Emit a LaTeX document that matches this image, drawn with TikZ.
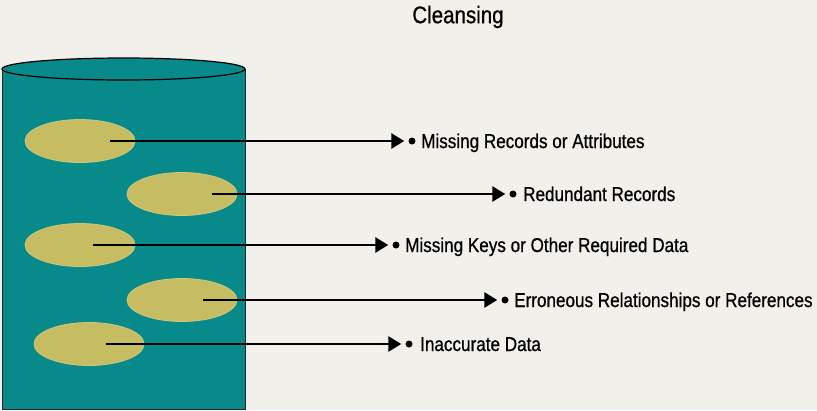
\documentclass[tikz,border=0pt]{standalone}
\usepackage{fontspec}
\setmainfont{Liberation Sans}[FakeStretch=0.855,FakeBold=0.7]
\usetikzlibrary{arrows.meta,shapes.geometric}
\definecolor{bgc}{RGB}{242,240,235}
\definecolor{teal1}{RGB}{8,137,138}
\definecolor{olive1}{RGB}{198,189,98}
\tikzset{
  disc/.style={ellipse, fill=olive1, draw=olive1!85!white, line width=0.8pt, minimum width=110pt, minimum height=43pt, inner sep=0pt},
  dot/.style={circle, fill=black, minimum size=7pt, inner sep=0pt},
  lbl/.style={anchor=west, inner sep=0pt, text height=14pt, text depth=0pt, font=\fontsize{20}{23}\selectfont},
  conn/.style={line width=2.8pt, -{Triangle[length=13pt,width=15pt]}, shorten >=4pt}
}
\begin{document}
\begin{tikzpicture}[x=1pt,y=-1pt]
\useasboundingbox (0,0) rectangle (817,410);
\fill[bgc] (0,0) rectangle (817,410);
% title
\node[inner sep=0pt, font=\fontsize{24}{26}\selectfont] (title) at (458,17) {Cleansing};
% cylinder
\fill[teal1] (2,69) rectangle (245,409);
\fill[teal1] (123.5,69) ellipse[x radius=121.5,y radius=11];
\draw[black!85, line width=0.8pt] (2,69) -- (2,409) -- (245,409) -- (245,69);
\draw[black, line width=1.2pt] (123.5,69) ellipse[x radius=121.5,y radius=11];
% discs
\node[disc] (e1) at (80,141) {};
\node[disc] (e2) at (182,194) {};
\node[disc] (e3) at (80,245) {};
\node[disc] (e4) at (182,300) {};
\node[disc] (e5) at (89,344) {};
% bullets
\node[dot] (b1) at (412,141) {};
\node[dot] (b2) at (513,194) {};
\node[dot] (b3) at (396,245) {};
\node[dot] (b4) at (505,300) {};
\node[dot] (b5) at (409,344) {};
% labels
\node[lbl] (t1) at (421,141) {Missing Records or Attributes};
\node[lbl] (t2) at (523,194) {Redundant Records};
\node[lbl] (t3) at (405,245) {Missing Keys or Other Required Data};
\node[lbl] (t4) at (514,300) {Erroneous Relationships or References};
\node[lbl] (t5) at (420,344) {Inaccurate Data};
% connectors
\draw[conn] ([xshift=30pt]e1.center) -- (b1);
\draw[conn] ([xshift=30pt]e2.center) -- (b2);
\draw[conn] ([xshift=13pt]e3.center) -- (b3);
\draw[conn] ([xshift=21pt]e4.center) -- (b4);
\draw[conn] ([xshift=17pt]e5.center) -- (b5);
\end{tikzpicture}
\end{document}
